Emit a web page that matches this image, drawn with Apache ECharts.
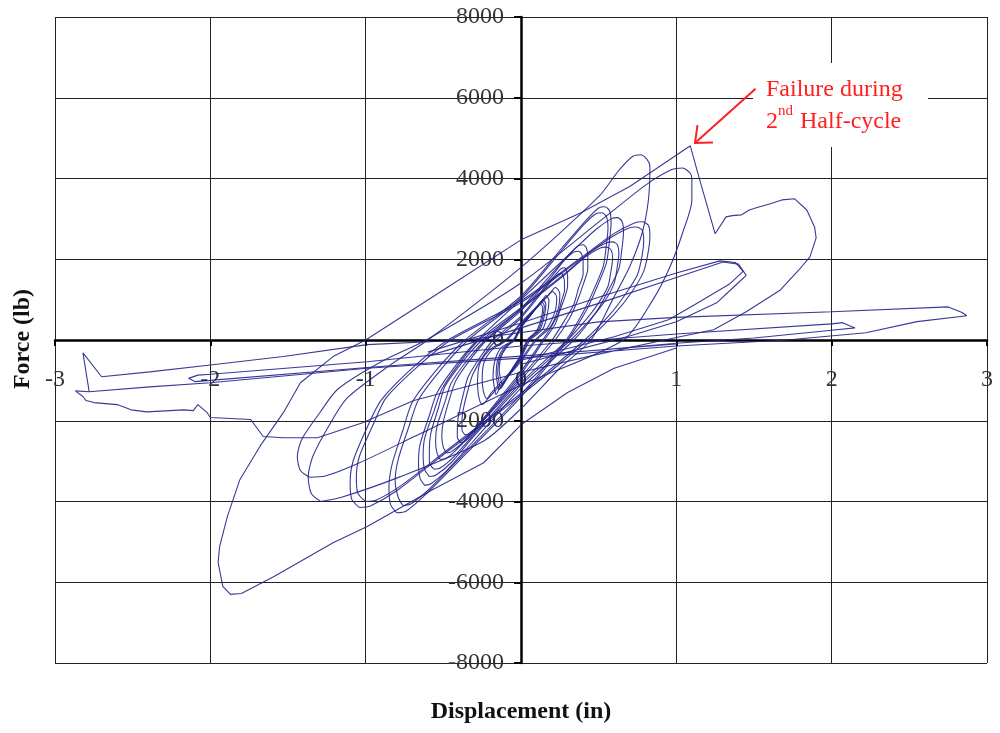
<!DOCTYPE html>
<html>
<head>
<meta charset="utf-8">
<script src="https://cdn.jsdelivr.net/npm/echarts@6/dist/echarts.min.js"></script>
<style>
  html, body { margin: 0; padding: 0; background: #fff; }
  #chart { width: 1000px; height: 733px; }
</style>
</head>
<body>
<div id="chart"></div>
<script>
// displacement (in), force (lb)
const xMin = -3, xMax = 3, xStep = 1
const yMin = -8000, yMax = 8000, yStep = 2000

// small cycles around the origin
const loop1 = [[-0.14,-770],[-0.13,-440],[-0.09,-165],[-0.04,0],[0,300],[0.06,600],[0.1,810],[0.12,900],[0.14,790],[0.13,540],[0.1,225],[0.04,0],[0,-360],[-0.06,-730],[-0.1,-990],[-0.12,-1100],[-0.13,-990],[-0.14,-770]]
const loop1b = [[-0.15,-840],[-0.14,-480],[-0.1,-180],[-0.045,0],[0,315],[0.065,630],[0.11,855],[0.13,950],[0.15,835],[0.14,570],[0.11,240],[0.045,0],[0,-395],[-0.065,-790],[-0.11,-1080],[-0.13,-1200],[-0.14,-1080],[-0.15,-840]]
const loop2 = [[-0.16,-860],[-0.15,-490],[-0.11,-185],[-0.05,0],[0,330],[0.07,660],[0.12,900],[0.14,1000],[0.16,880],[0.15,600],[0.12,250],[0.05,0],[0,-400],[-0.07,-810],[-0.12,-1110],[-0.14,-1230],[-0.15,-1110],[-0.16,-860]]
const loop3 = [[-0.18,-945],[-0.17,-540],[-0.13,-200],[-0.05,0],[0,360],[0.08,730],[0.14,990],[0.16,1100],[0.18,970],[0.17,660],[0.14,275],[0.06,0],[0,-445],[-0.08,-890],[-0.14,-1215],[-0.16,-1350],[-0.17,-1215],[-0.18,-945]]
const loop4 = [[-0.28,-1120],[-0.27,-640],[-0.2,-240],[-0.1,0],[0,430],[0.11,860],[0.19,1170],[0.22,1300],[0.25,1140],[0.24,780],[0.19,325],[0.1,0],[0,-530],[-0.12,-1060],[-0.21,-1440],[-0.25,-1600],[-0.27,-1440],[-0.28,-1120]]
const loop4b = [[-0.25,-1015],[-0.24,-580],[-0.18,-220],[-0.09,0],[0,400],[0.1,790],[0.17,1080],[0.2,1200],[0.23,1055],[0.22,720],[0.17,300],[0.09,0],[0,-480],[-0.11,-960],[-0.19,-1305],[-0.22,-1450],[-0.24,-1305],[-0.25,-1015]]
const loop5 = [[-0.39,-2540],[-0.41,-2410],[-0.41,-2160],[-0.4,-1830],[-0.37,-1320],[-0.34,-910],[-0.26,-410],[-0.18,0],[0,590],[0.14,1250],[0.22,1610],[0.26,1770],[0.28,1790],[0.29,1740],[0.3,1580],[0.3,1340],[0.28,1040],[0.25,720],[0.22,390],[0.15,0],[0,-840],[-0.2,-1780],[-0.3,-2290],[-0.36,-2510],[-0.39,-2540]]
const loop5b = [[-0.36,-2350],[-0.38,-2230],[-0.38,-2000],[-0.37,-1690],[-0.34,-1220],[-0.31,-850],[-0.24,-380],[-0.16,0],[0,545],[0.13,1155],[0.2,1485],[0.24,1630],[0.26,1650],[0.27,1600],[0.28,1450],[0.28,1240],[0.26,960],[0.24,660],[0.2,360],[0.14,0],[0,-775],[-0.18,-1645],[-0.28,-2115],[-0.33,-2330],[-0.36,-2350]]
const loop6 = [[-0.52,-2960],[-0.54,-2810],[-0.55,-2520],[-0.54,-2130],[-0.49,-1540],[-0.45,-1070],[-0.34,-470],[-0.23,0],[0,780],[0.2,1650],[0.31,2120],[0.37,2340],[0.4,2360],[0.42,2290],[0.43,2080],[0.43,1770],[0.4,1370],[0.36,940],[0.31,520],[0.22,0],[0,-980],[-0.26,-2070],[-0.4,-2660],[-0.48,-2930],[-0.52,-2960]]
const loop6b = [[-0.48,-2800],[-0.5,-2660],[-0.51,-2380],[-0.5,-2020],[-0.46,-1460],[-0.42,-1010],[-0.32,-450],[-0.22,0],[0,730],[0.19,1540],[0.28,1980],[0.34,2180],[0.37,2200],[0.39,2130],[0.4,1940],[0.4,1650],[0.37,1280],[0.34,880],[0.28,480],[0.2,0],[0,-920],[-0.24,-1960],[-0.37,-2520],[-0.45,-2770],[-0.48,-2800]]
// medium cycles
const loop7 = [[-0.59,-3380],[-0.62,-3210],[-0.63,-2870],[-0.62,-2430],[-0.56,-1760],[-0.51,-1220],[-0.39,-540],[-0.27,0],[0,800],[0.3,1700],[0.45,2190],[0.55,2410],[0.59,2430],[0.62,2360],[0.63,2140],[0.62,1820],[0.6,1410],[0.54,970],[0.45,530],[0.32,0],[0,-1115],[-0.3,-2370],[-0.45,-3040],[-0.55,-3350],[-0.59,-3380]]
const loop7b = [[-0.56,-3200],[-0.59,-3040],[-0.59,-2720],[-0.58,-2300],[-0.53,-1660],[-0.49,-1150],[-0.37,-510],[-0.25,0],[0,760],[0.28,1610],[0.42,2070],[0.51,2280],[0.55,2300],[0.58,2230],[0.59,2020],[0.58,1730],[0.56,1330],[0.5,920],[0.42,510],[0.3,0],[0,-1055],[-0.28,-2240],[-0.43,-2880],[-0.52,-3170],[-0.56,-3200]]
const loop8 = [[-0.8,-4280],[-0.84,-4070],[-0.85,-3640],[-0.83,-3080],[-0.76,-2230],[-0.7,-1540],[-0.53,-680],[-0.36,0],[0,1090],[0.27,2310],[0.42,2970],[0.5,3270],[0.54,3300],[0.57,3200],[0.58,2900],[0.57,2480],[0.55,1910],[0.49,1320],[0.42,730],[0.3,0],[0,-1410],[-0.4,-3000],[-0.62,-3850],[-0.74,-4240],[-0.8,-4280]]
const loop8b = [[-0.76,-4100],[-0.79,-3900],[-0.81,-3490],[-0.79,-2950],[-0.72,-2130],[-0.66,-1480],[-0.5,-660],[-0.34,0],[0,1040],[0.26,2210],[0.4,2840],[0.48,3120],[0.52,3150],[0.55,3060],[0.56,2770],[0.55,2360],[0.53,1830],[0.47,1260],[0.4,690],[0.29,0],[0,-1350],[-0.38,-2870],[-0.59,-3690],[-0.71,-4060],[-0.76,-4100]]
const loop9 = [[-0.62,-3600],[-0.65,-3420],[-0.66,-3060],[-0.65,-2590],[-0.59,-1870],[-0.54,-1300],[-0.41,-580],[-0.28,0],[0,1000],[0.31,2120],[0.48,2730],[0.58,3000],[0.62,3030],[0.65,2940],[0.66,2670],[0.65,2270],[0.63,1760],[0.56,1210],[0.48,670],[0.34,0],[0,-1190],[-0.31,-2520],[-0.48,-3240],[-0.58,-3560],[-0.62,-3600]]
const loop10 = [[-1.04,-4150],[-1.09,-3940],[-1.1,-3530],[-1.08,-2990],[-0.99,-2160],[-0.9,-1490],[-0.69,-660],[-0.47,0],[0,970],[0.39,2050],[0.6,2640],[0.73,2900],[0.78,2930],[0.82,2840],[0.83,2580],[0.82,2200],[0.79,1700],[0.71,1170],[0.6,640],[0.43,0],[0,-1370],[-0.52,-2900],[-0.8,-3735],[-0.97,-4110],[-1.04,-4150]]
const loop10b = [[-1.0,-4000],[-1.05,-3800],[-1.06,-3400],[-1.04,-2880],[-0.95,-2080],[-0.87,-1440],[-0.66,-640],[-0.45,0],[0,925],[0.37,1960],[0.57,2520],[0.69,2770],[0.74,2800],[0.78,2720],[0.79,2460],[0.78,2100],[0.75,1620],[0.67,1120],[0.57,620],[0.41,0],[0,-1320],[-0.5,-2800],[-0.77,-3600],[-0.93,-3960],[-1.0,-4000]]
// large cycles before failure
const loop11 = [[-1.29,-4000],[-1.35,-3800],[-1.37,-3400],[-1.34,-2880],[-1.23,-2080],[-1.12,-1440],[-0.85,-640],[-0.6,0],[0,1800],[0.5,3550],[0.63,4200],[0.72,4550],[0.77,4590],[0.81,4480],[0.83,4300],[0.82,3460],[0.78,2650],[0.7,1820],[0.59,1000],[0.45,0],[0.25,-700],[0,-1700],[-0.24,-2500],[-0.78,-3390],[-1.16,-3900],[-1.29,-4000]]
const loop12 = [[-1.36,-3400],[-1.42,-3230],[-1.44,-2890],[-1.41,-2450],[-1.29,-1770],[-1.18,-1220],[-0.9,-540],[-0.61,0],[0,1410],[0.52,2980],[0.8,3830],[0.97,4220],[1.04,4260],[1.09,4130],[1.1,3970],[1.1,3470],[1.04,2650],[0.96,1820],[0.85,1000],[0.66,0],[0,-1120],[-0.68,-2380],[-1.05,-3060],[-1.26,-3370],[-1.36,-3400]]

// big negative half-cycle, then failure in the 2nd half-cycle
const failurePath = [[1.0,-200],[0.6,-700],[0.3,-1300],[0,-2100],[-0.24,-3040],[-0.57,-3710],[-0.99,-4620],[-1.21,-5020],[-1.59,-5860],[-1.8,-6280],[-1.87,-6300],[-1.92,-6100],[-1.95,-5510],[-1.94,-5110],[-1.89,-4370],[-1.81,-3460],[-1.68,-2630],[-1.53,-1800],[-1.42,-1060],[-1.21,-410],[-1.0,0],[-0.5,1240],[0,2480],[0.38,3140],[0.7,3800],[1.09,4810],[1.15,3970],[1.25,2630],[1.32,3050],[1.36,3080],[1.42,3100],[1.47,3220],[1.52,3280],[1.6,3370],[1.68,3470],[1.76,3500],[1.84,3220],[1.89,2800],[1.9,2530],[1.86,2060],[1.79,1740],[1.67,1240],[1.45,700],[1.24,255],[1.0,60]]

// post-failure cycles
const postFailure1 = [[1.0,60],[0.5,-350],[0,-800],[-0.69,-1500],[-1.02,-2050],[-1.31,-2420],[-1.53,-2420],[-1.66,-2390],[-1.74,-1970],[-2.0,-1920],[-2.02,-1800],[-2.08,-1600],[-2.11,-1750],[-2.17,-1730],[-2.41,-1780],[-2.51,-1730],[-2.6,-1600],[-2.75,-1550],[-2.8,-1500],[-2.82,-1400],[-2.87,-1260],[-2.78,-1280],[-2.82,-320],[-2.7,-910],[-2.39,-790],[-2.0,-620],[-1.53,-410],[-0.99,-115],[-0.35,0],[0.5,450],[1.0,560],[2.0,700],[2.75,820],[2.84,680],[2.87,600],[2.55,455],[2.22,180],[1.71,0],[1.0,-150],[0,-450],[-0.99,-700],[-2.0,-1060],[-2.39,-1160],[-2.78,-1280]]
const postFailure2 = [[1.0,-100],[0,-400],[-0.99,-680],[-2.0,-1000],[-2.1,-1030],[-2.14,-950],[-2.08,-870],[-2.0,-850],[-0.99,-540],[0,-150],[1.0,150],[2.0,400],[2.07,430],[2.15,300],[2.0,240],[1.5,50],[1.0,-80],[0.5,-250]]
const postFailure3 = [[-0.6,-400],[0,300],[0.51,920],[1.0,1550],[1.3,1930],[1.4,1880],[1.45,1600],[1.38,1350],[1.26,920],[1.0,450],[0.7,100],[0.3,-300],[0,-600]]
const postFailure4 = [[-0.6,-300],[0,420],[0.51,1070],[1.0,1660],[1.28,1960],[1.38,1920],[1.43,1700],[1.34,1380],[1.12,880],[0.95,500],[0.6,80],[0,-500]]

// annotation arrow: from label to the failure peak
const arrowTail = [1.51, 6220]
const arrowHead = [1.12, 4880]

const smallLoops = [loop1, loop1b, loop2, loop3, loop4, loop4b]
const bigLoops = [loop5, loop5b, loop6, loop6b, loop7, loop7b, loop8, loop8b, loop9, loop10, loop10b, loop11, loop12]
const roughPaths = [failurePath, postFailure1, postFailure2, postFailure3, postFailure4]

const lineColor = '#23238c'
const serif = '"Liberation Serif", "Times New Roman", serif'

const chart = echarts.init(document.getElementById('chart'))

const mkSeries = (data, smooth) => ({
    type: 'line',
    data: data,
    smooth: smooth,
    showSymbol: false,
    silent: true,
    animation: false,
    lineStyle: { color: lineColor, width: 1.1, opacity: 0.9 },
    z: 3,
})

// plot box in px; the axes sit on the zero lines in the middle of it
const gridBox = { left: 55, right: 13, top: 17, bottom: 70 }
const plotW = 1000 - gridBox.left - gridBox.right
const plotH = 733 - gridBox.top - gridBox.bottom

chart.setOption({
    animation: false,
    grid: { ...gridBox, containLabel: false, outerBoundsMode: 'none' },
    xAxis: {
        type: 'value',
        min: xMin, max: xMax, interval: xStep,
        position: 'bottom',
        offset: -plotH * (0 - yMin) / (yMax - yMin),
        axisLine: { onZero: false, lineStyle: { color: '#000', width: 2.5 } },
        axisTick: { show: true, length: 6, lineStyle: { color: '#000', width: 2 } },
        axisLabel: { margin: 28, fontFamily: serif, fontSize: 24, color: '#333', showMinLabel: true, showMaxLabel: true },
        splitLine: { show: true, lineStyle: { color: '#222', width: 1 } },
    },
    yAxis: {
        type: 'value',
        min: yMin, max: yMax, interval: yStep,
        position: 'left',
        offset: -plotW * (0 - xMin) / (xMax - xMin),
        axisLine: { onZero: false, lineStyle: { color: '#000', width: 2.5 } },
        axisTick: { show: true, length: 7, lineStyle: { color: '#000', width: 2 } },
        axisLabel: { margin: 17, fontFamily: serif, fontSize: 24, color: '#333', formatter: v => String(v) },
        splitLine: { show: true, lineStyle: { color: '#222', width: 1 } },
    },
    series: [
        ...smallLoops.map(d => mkSeries(d, 0.35)),
        ...bigLoops.map(d => mkSeries(d, 0.25)),
        ...roughPaths.map(d => mkSeries(d, false)),
    ],
})

// annotation and axis titles
const tail = chart.convertToPixel({ gridIndex: 0 }, arrowTail)
const head = chart.convertToPixel({ gridIndex: 0 }, arrowHead)
const ang = Math.atan2(tail[1] - head[1], tail[0] - head[0])
const armLen = 18, spread = 0.7
const arm = (s) => [head[0] + armLen * Math.cos(ang + s * spread), head[1] + armLen * Math.sin(ang + s * spread)]
const red = '#ff1f1f'

chart.setOption({
    graphic: [
        { type: 'rect', shape: { x: 753, y: 63, width: 175, height: 84 }, style: { fill: '#fff' }, z: 50 },
        { type: 'text', x: 766, y: 90, z: 51, style: { text: 'Failure during', font: '24px ' + serif, fill: red, verticalAlign: 'middle' } },
        { type: 'text', x: 766, y: 122, z: 51, style: { text: '2', font: '24px ' + serif, fill: red, verticalAlign: 'middle' } },
        { type: 'text', x: 778, y: 111, z: 51, style: { text: 'nd', font: '15px ' + serif, fill: red, verticalAlign: 'middle' } },
        { type: 'text', x: 800, y: 122, z: 51, style: { text: 'Half-cycle', font: '24px ' + serif, fill: red, verticalAlign: 'middle' } },
        { type: 'line', z: 51, shape: { x1: tail[0], y1: tail[1], x2: head[0], y2: head[1] }, style: { stroke: red, lineWidth: 2 } },
        { type: 'polyline', z: 51, shape: { points: [arm(1), head, arm(-1)] }, style: { stroke: red, lineWidth: 2, fill: null } },
        { type: 'text', x: 521, y: 712, z: 51, style: { text: 'Displacement (in)', font: 'bold 24px ' + serif, fill: '#111', align: 'center', verticalAlign: 'middle' } },
        { type: 'text', x: 23, y: 339, rotation: Math.PI / 2, z: 51, style: { text: 'Force (lb)', font: 'bold 24px ' + serif, fill: '#111', align: 'center', verticalAlign: 'middle' } },
    ],
})
</script>
</body>
</html>
